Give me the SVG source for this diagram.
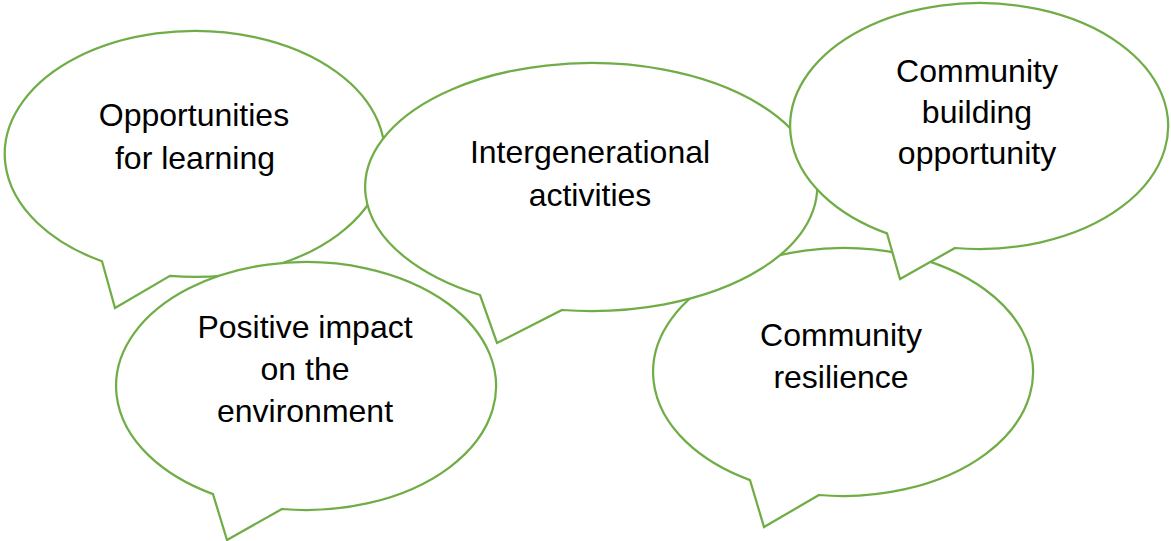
<svg xmlns="http://www.w3.org/2000/svg" width="1171" height="541" viewBox="0 0 1171 541">
  <style>
    .bubble { fill: #ffffff; stroke: #70ad47; stroke-width: 2.25; stroke-linejoin: miter; }
    .label { font-family: "Liberation Sans", Arial, Helvetica, sans-serif; font-size: 32px; fill: #000000; text-anchor: middle; }
  </style>
  <rect width="1171" height="541" fill="#ffffff"/>

  <!-- speech bubbles: ellipse arc + pointed tail, drawn back to front -->
  <g id="community-resilience">
    <path class="bubble" d="M750,480.1 A190,124 0 1 1 819,495 L764,527 Z"/>
    <text class="label" x="841" y="346">Community</text>
    <text class="label" x="841" y="388">resilience</text>
  </g>

  <g id="opportunities-for-learning">
    <path class="bubble" d="M102,261.3 A190,123 0 1 1 170,275.9 L115,308 Z"/>
    <text class="label" x="194" y="126">Opportunities</text>
    <text class="label" x="195" y="169">for learning</text>
  </g>

  <g id="positive-impact">
    <path class="bubble" d="M213,494.1 A190,124 0 1 1 282,509 L227,540 Z"/>
    <text class="label" x="305" y="338">Positive impact</text>
    <text class="label" x="305" y="380">on the</text>
    <text class="label" x="305" y="422">environment</text>
  </g>

  <g id="intergenerational-activities">
    <path class="bubble" d="M480,295 A226,124 0 1 1 562,310 L497,343 Z"/>
    <text class="label" x="590" y="163">Intergenerational</text>
    <text class="label" x="590" y="206">activities</text>
  </g>

  <g id="community-building">
    <path class="bubble" d="M887,233.4 A189,123 0 1 1 955,248 L900,279 Z"/>
    <text class="label" x="977" y="82">Community</text>
    <text class="label" x="977" y="123">building</text>
    <text class="label" x="977" y="164">opportunity</text>
  </g>

  <!-- the bubbles are free-standing; there are no connectors -->
  <g id="connectors"/>
</svg>
